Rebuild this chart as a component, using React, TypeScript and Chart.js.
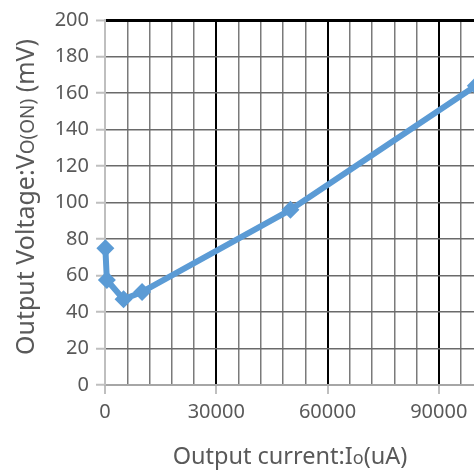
import React, { useEffect, useRef } from "react";
import { Chart, registerables } from "chart.js";

Chart.register(...registerables);

const currentUA = [100, 500, 5000, 10000, 50000, 100000];
const voltageMV = [75, 57.5, 47, 51, 96, 164];
const xTickValues = [0, 30000, 60000, 90000, 120000];
const yTickValues = [0, 20, 40, 60, 80, 100, 120, 140, 160, 180, 200];

const FONT = "'Noto Sans', 'Open Sans', sans-serif";

const titlePlugin = {
  id: "mixedTitles",
  afterDraw(chart: any) {
    const ctx = chart.ctx;
    const drawSegs = (segs: [string, number][]) => {
      let total = 0;
      for (const [t, s] of segs) {
        ctx.font = `${s}px ${FONT}`;
        total += ctx.measureText(t).width;
      }
      let x = -total / 2;
      for (const [t, s] of segs) {
        ctx.font = `${s}px ${FONT}`;
        ctx.fillText(t, x, 0);
        x += ctx.measureText(t).width;
      }
    };
    ctx.save();
    ctx.fillStyle = "#595959";
    ctx.textBaseline = "alphabetic";
    ctx.textAlign = "left";
    ctx.save();
    ctx.translate(290, 464);
    drawSegs([["Output current:I", 23.5], ["o", 18], ["(uA)", 23.5]]);
    ctx.restore();
    ctx.save();
    ctx.translate(34, 197);
    ctx.rotate(-Math.PI / 2);
    drawSegs([["Output Voltage:V", 25], ["O(ON)", 19], [" (mV)", 25]]);
    ctx.restore();
    ctx.restore();
  },
};

export default function App() {
  const ref = useRef<HTMLCanvasElement>(null);
  useEffect(() => {
    if (!ref.current) return;
    const chart = new Chart(ref.current, {
      type: "line",
      data: {
        datasets: [
          {
            data: currentUA.map((x, i) => ({ x, y: voltageMV[i] })),
            borderColor: "#5B9BD5",
            backgroundColor: "#5B9BD5",
            borderWidth: 6,
            borderJoinStyle: "round",
            pointStyle: "rectRot",
            pointRadius: 9,
            pointBorderWidth: 0,
            tension: 0,
            clip: false,
          },
        ],
      },
      options: {
        responsive: false,
        animation: false,
        layout: { padding: { left: 0, right: 50, top: 20, bottom: 0 } },
        plugins: { legend: { display: false }, tooltip: { enabled: false } },
        scales: {
          x: {
            type: "linear",
            min: 0,
            max: 120000,
            afterBuildTicks: (scale: any) => {
              const t = [];
              for (let v = 0; v <= 120000; v += 6000) t.push({ value: v });
              scale.ticks = t;
            },
            afterFit: (scale: any) => {
              scale.height = 88;
            },
            ticks: {
              autoSkip: false,
              maxRotation: 0,
              color: "#595959",
              font: { family: FONT, size: 20 },
              padding: 6,
              callback: (v: any) => (xTickValues.includes(Number(v)) ? String(v) : ""),
            },
            grid: {
              color: (c: any) => {
                const v = c.tick ? c.tick.value : 0;
                if (v === 0) return "rgba(0,0,0,0)";
                return v % 30000 === 0 ? "#000000" : "#7a7a7a";
              },
              lineWidth: (c: any) => {
                const v = c.tick ? c.tick.value : 0;
                return v % 30000 === 0 ? 2 : 1.5;
              },
              tickColor: (c: any) => {
                const v = c.tick ? c.tick.value : 0;
                return v % 30000 === 0 ? "#bfbfbf" : "rgba(0,0,0,0)";
              },
              tickLength: 9,
              tickWidth: 2,
            },
            border: { display: true, color: "#a6a6a6", width: 2 },
          },
          y: {
            type: "linear",
            min: 0,
            max: 200,
            afterBuildTicks: (scale: any) => {
              scale.ticks = yTickValues.map((v) => ({ value: v }));
            },
            afterFit: (scale: any) => {
              scale.width = 105;
            },
            ticks: {
              color: "#595959",
              font: { family: FONT, size: 20 },
              padding: 7,
            },
            grid: {
              color: (c: any) => {
                const v = c.tick ? c.tick.value : 0;
                if (v === 0) return "rgba(0,0,0,0)";
                return v === 200 ? "#000000" : "#6a6a6a";
              },
              lineWidth: (c: any) => {
                const v = c.tick ? c.tick.value : 0;
                return v === 200 ? 3 : 1.5;
              },
              tickColor: "#bfbfbf",
              tickLength: 9,
              tickWidth: 2,
            },
            border: { display: true, color: "#bfbfbf", width: 2 },
          },
        },
      },
      plugins: [titlePlugin],
    } as any);
    return () => chart.destroy();
  }, []);
  return (
    <div
      style={{
        position: "fixed",
        left: 0,
        top: 0,
        width: 474,
        height: 473,
        overflow: "hidden",
        background: "#fff",
      }}
    >
      <canvas ref={ref} width={600} height={473} style={{ width: 600, height: 473 }} />
    </div>
  );
}
